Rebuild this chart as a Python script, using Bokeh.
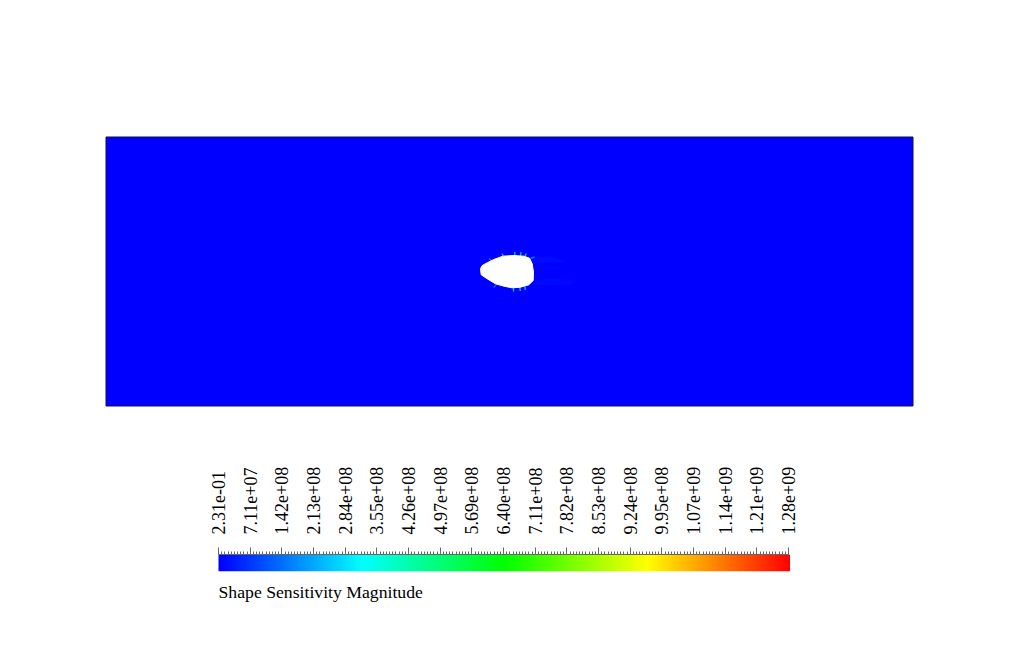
from bokeh.plotting import figure
from bokeh.layouts import column
from bokeh.models import Range1d, LinearColorMapper, FixedTicker, LinearAxis, Title, ColumnDataSource
from bokeh.embed import file_html
from bokeh.resources import INLINE
import numpy as np

# Colour bar
TICK_LABELS = ["2.31e-01", "7.11e+07", "1.42e+08", "2.13e+08", "2.84e+08", "3.55e+08", "4.26e+08",
               "4.97e+08", "5.69e+08", "6.40e+08", "7.11e+08", "7.82e+08", "8.53e+08", "9.24e+08",
               "9.95e+08", "1.07e+09", "1.14e+09", "1.21e+09", "1.28e+09"]
VMIN = 0.231
VMAX = 1.28e9
BAR_TITLE = "Shape Sensitivity Magnitude"

# Flow domain, in page-sized length units
DOMAIN_X = [105.5, 912.5]
DOMAIN_Y = [136.5, 405.5]

# Body outline
BODY_X = [480.0, 481.7, 486.7, 493.3, 502.3, 513.3, 523.3, 529.0, 531.7, 533.0, 532.7, 528.3, 520.0, 511.7, 503.3, 495.0, 486.7, 480.7]
BODY_Y = [268.3, 265.0, 262.3, 259.0, 255.7, 255.0, 255.7, 257.7, 263.3, 271.7, 280.0, 284.3, 286.7, 287.3, 285.7, 283.3, 278.3, 274.3]

# Sensitivity streaks at the body surface
STREAK_X0 = [503.0, 514.3, 520.0, 524.3, 513.0, 519.3, 524.3, 491.0, 530.0, 496.0]
STREAK_Y0 = [256.0, 255.5, 255.5, 257.0, 287.0, 287.0, 286.0, 260.0, 258.0, 284.0]
STREAK_X1 = [501.5, 514.3, 520.5, 525.5, 513.0, 519.8, 525.0, 488.5, 534.0, 493.0]
STREAK_Y1 = [253.0, 251.5, 251.5, 253.0, 291.0, 290.5, 289.5, 258.0, 256.5, 287.0]
STREAK_V = [3.0e8, 5.0e8, 5.5e8, 3.6e8, 4.5e8, 4.8e8, 3.2e8, 2.0e8, 2.0e8, 1.6e8]

# Faint wake patches behind the body
WAKE_X = [[531.0, 548.0, 566.0, 560.0, 540.0, 532.0], [534.0, 552.0, 574.0, 568.0, 546.0, 534.0]]
WAKE_Y = [[256.0, 256.5, 260.0, 262.0, 262.0, 264.0], [280.0, 278.0, 281.0, 284.0, 285.0, 284.0]]
WAKE_V = [7.0e7, 6.0e7]

anchors = [(0, 0, 255), (0, 255, 255), (0, 255, 0), (255, 255, 0), (255, 0, 0)]
palette = []
for i in range(256):
    t = i / 255 * 4
    k = min(int(t), 3)
    f = t - k
    c = [round(anchors[k][j] * (1 - f) + anchors[k + 1][j] * f) for j in range(3)]
    palette.append("#%02x%02x%02x" % tuple(c))
mapper = LinearColorMapper(palette=palette, low=VMIN, high=VMAX)

TOP_H = 463

# Main view: one unit is one pixel
top = figure(width=1006, height=TOP_H, x_range=Range1d(0, 1006), y_range=Range1d(TOP_H, 0),
             output_backend="svg", toolbar_location=None, min_border=0, x_axis_type=None,
             y_axis_type=None, outline_line_color=None)
top.grid.visible = False
top.quad(left=[DOMAIN_X[0]], right=[DOMAIN_X[1]], bottom=[DOMAIN_Y[1]], top=[DOMAIN_Y[0]],
         fill_color="#0000ff", line_color="#10104a", line_width=1)
wake = ColumnDataSource(dict(xs=WAKE_X, ys=WAKE_Y, v=WAKE_V))
top.patches("xs", "ys", source=wake, fill_color={"field": "v", "transform": mapper},
            line_color=None, fill_alpha=0.2)
streaks = ColumnDataSource(dict(x0=STREAK_X0, y0=STREAK_Y0, x1=STREAK_X1, y1=STREAK_Y1, v=STREAK_V))
top.segment("x0", "y0", "x1", "y1", source=streaks, line_color={"field": "v", "transform": mapper},
            line_width=1.4, line_alpha=0.75)
top.patch(BODY_X, BODY_Y, fill_color="#ffffff", line_color="#ffffff", line_width=1)

# Colour bar: frame spans the full width, bar and axis are bounded to the value range
n = len(TICK_LABELS) - 1
step = round(VMAX / n)
ticks = [0] + [step * i for i in range(1, n)] + [int(VMAX)]
minor = [step * i / 10 for i in range(n * 10 + 1)]
per_px = VMAX / 570
bar = figure(width=1006, height=648 - TOP_H, x_range=Range1d(-218 * per_px, 788 * per_px), y_range=Range1d(0, 1),
             output_backend="svg", toolbar_location=None, min_border_left=0, min_border_right=0,
             min_border_top=0, min_border_bottom=77, x_axis_type=None, y_axis_type=None,
             outline_line_color=None)
bar.grid.visible = False
ramp = np.linspace(VMIN, VMAX, 256).reshape(1, -1)
bar.image(image=[ramp], x=0, y=0, dw=VMAX + per_px * 1.5, dh=1, color_mapper=mapper)
ax = LinearAxis(ticker=FixedTicker(ticks=ticks, minor_ticks=minor), bounds=(0, VMAX))
ax.major_label_overrides = {t: l for t, l in zip(ticks, TICK_LABELS)}
ax.major_label_orientation = np.pi / 2
ax.major_label_text_font = "Liberation Serif"
ax.major_label_text_font_size = "18px"
ax.major_label_text_color = "#000000"
ax.major_label_standoff = 13
ax.major_tick_in = 0
ax.major_tick_out = 7
ax.minor_tick_in = 0
ax.minor_tick_out = 3
ax.axis_line_color = "#666666"
ax.major_tick_line_color = "#666666"
ax.minor_tick_line_color = "#666666"
bar.add_layout(ax, "above")
t = Title(text=BAR_TITLE, text_font="Liberation Serif", text_font_size="17.7px", text_font_style="normal",
          text_color="#000000", align="left", offset=218, standoff=16)
bar.add_layout(t, "below")

page = column(top, bar, spacing=0)
open("out.html", "w").write(file_html(page, INLINE))
